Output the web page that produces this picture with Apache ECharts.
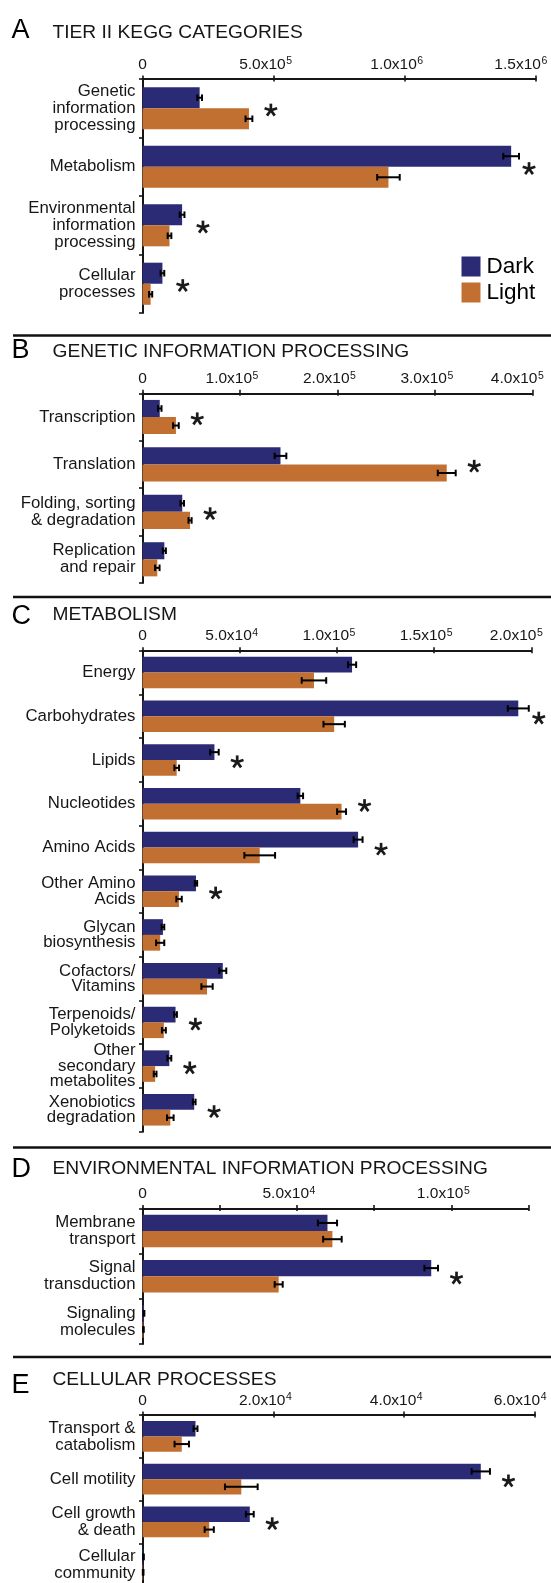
<!DOCTYPE html>
<html>
<head>
<meta charset="utf-8">
<script src="https://cdn.jsdelivr.net/npm/echarts@6/dist/echarts.min.js"></script>
<style>
  html, body { margin: 0; padding: 0; background: #fff; }
  #chart { width: 551px; height: 1583px; }
</style>
</head>
<body>
<div id="chart"></div>
<script>
// Gene abundance per KEGG category, dark vs light samples (mean ± error)

// A: Tier II KEGG categories
const catsA = ['Genetic\ninformation\nprocessing', 'Metabolism', 'Environmental\ninformation\nprocessing', 'Cellular\nprocesses'];
const darkA = [218000, 1406000, 151000, 76000];
const darkErrA = [9000, 30000, 9000, 7000];
const lightA = [406000, 938000, 103000, 31000];
const lightErrA = [13000, 43000, 7000, 6000];
const sigA = [1, 1, 1, 1];
const ticksA = ['0', '5.0x10^5', '1.0x10^6', '1.5x10^6'];

// B: Genetic information processing
const catsB = ['Transcription', 'Translation', 'Folding, sorting\n& degradation', 'Replication\nand repair'];
const darkB = [17700, 141600, 40800, 22400];
const darkErrB = [1800, 6000, 1800, 1600];
const lightB = [34300, 312200, 48800, 15200];
const lightErrB = [2900, 9200, 1600, 2300];
const sigB = [1, 1, 1, 0];
const ticksB = ['0', '1.0x10^5', '2.0x10^5', '3.0x10^5', '4.0x10^5'];

// C: Metabolism
const catsC = ['Energy', 'Carbohydrates', 'Lipids', 'Nucleotides', 'Amino Acids', 'Other Amino\nAcids',
  'Glycan\nbiosynthesis', 'Cofactors/\nVitamins', 'Terpenoids/\nPolyketoids', 'Other\nsecondary\nmetabolites',
  'Xenobiotics\ndegradation'];
const darkC = [107800, 193300, 37000, 81200, 110900, 27500, 10500, 41300, 17000, 13800, 26600];
const darkErrC = [2100, 5400, 2200, 1400, 2300, 600, 700, 1800, 700, 1000, 700];
const lightC = [88200, 98600, 17600, 102400, 60300, 18800, 9100, 33200, 11000, 6500, 14300];
const lightErrC = [6300, 5500, 1200, 2300, 7900, 1400, 2100, 2900, 1000, 700, 1700];
const sigC = [0, 1, 1, 1, 1, 1, 0, 0, 1, 1, 1];
const ticksC = ['0', '5.0x10^4', '1.0x10^5', '1.5x10^5', '2.0x10^5'];

// D: Environmental information processing
const catsD = ['Membrane\ntransport', 'Signal\ntransduction', 'Signaling\nmolecules'];
const darkD = [59900, 93500, 500];
const darkErrD = [3100, 2200, 100];
const lightD = [61500, 44100, 300];
const lightErrD = [3000, 1300, 100];
const sigD = [0, 1, 0];
const ticksD = ['0', '', '5.0x10^4', '', '1.0x10^5', ''];

// E: Cellular processes
const catsE = ['Transport &\ncatabolism', 'Cell motility', 'Cell growth\n& death', 'Cellular\ncommunity'];
const darkE = [8100, 51700, 16400, 150];
const darkErrE = [300, 1400, 600, 50];
const lightE = [6000, 15100, 10200, 100];
const lightErrE = [1100, 2500, 700, 50];
const sigE = [0, 1, 1, 0];
const ticksE = ['0', '2.0x10^4', '4.0x10^4', '6.0x10^4'];

const FONT = '"Liberation Sans", Arial, Helvetica, sans-serif';
const INK = '#161616';
const DARK = '#2b2a74';
const LIGHT = '#c27032';
const GAP = 0.28;       // share of each category band left empty
const AXIS_X = 142.5;   // pixel position of the zero line

const panels = [
  { letter: 'A', title: 'TIER II KEGG CATEGORIES', cats: catsA, dark: darkA, darkErr: darkErrA,
    light: lightA, lightErr: lightErrA, sig: sigA, ticks: ticksA, max: 1.5e6, interval: 5e5,
    top: 79, bottom: 313, end: 535.8, letterY: 30.5, titleY: 33, labelLH: 17 },
  { letter: 'B', title: 'GENETIC INFORMATION PROCESSING', cats: catsB, dark: darkB, darkErr: darkErrB,
    light: lightB, lightErr: lightErrB, sig: sigB, ticks: ticksB, max: 4e5, interval: 1e5,
    top: 393.3, bottom: 583, end: 532.3, letterY: 351, titleY: 351.5, sepY: 335.5, labelLH: 17 },
  { letter: 'C', title: 'METABOLISM', cats: catsC, dark: darkC, darkErr: darkErrC,
    light: lightC, lightErr: lightErrC, sig: sigC, ticks: ticksC, max: 2e5, interval: 5e4,
    top: 650.7, bottom: 1131.7, end: 531.3, letterY: 617, titleY: 615, sepY: 597, labelLH: 15.5 },
  { letter: 'D', title: 'ENVIRONMENTAL INFORMATION PROCESSING', cats: catsD, dark: darkD, darkErr: darkErrD,
    light: lightD, lightErr: lightErrD, sig: sigD, ticks: ticksD, max: 1.25e5, interval: 2.5e4,
    top: 1208.5, bottom: 1344, end: 528.5, letterY: 1169.5, titleY: 1168.5, sepY: 1147.5, labelLH: 17 },
  { letter: 'E', title: 'CELLULAR PROCESSES', cats: catsE, dark: darkE, darkErr: darkErrE,
    light: lightE, lightErr: lightErrE, sig: sigE, ticks: ticksE, max: 6e4, interval: 2e4,
    top: 1415, bottom: 1586, end: 535.1, letterY: 1386, titleY: 1380, sepY: 1357, labelLH: 17 }
];

function tickFormatter(labels) {
  return function (value, index) {
    const t = labels[index];
    if (!t) return '';
    if (t.indexOf('^') < 0) return '{z|' + t + '}';
    const parts = t.split('^');
    const style = index === labels.length - 1 ? 'eL' : 'e';
    return '{m|' + parts[0] + '}{' + style + '|' + parts[1] + '}';
  };
}

const tickRich = {
  z: { fontSize: 15.5, lineHeight: 17, fontFamily: FONT, color: INK },
  m: { fontSize: 15.5, lineHeight: 17, fontFamily: FONT, color: INK },
  e: { fontSize: 10.5, lineHeight: 10, verticalAlign: 'top', fontFamily: FONT, color: INK, padding: [0, 16, 0, 0.5] },
  eL: { fontSize: 10.5, lineHeight: 10, verticalAlign: 'top', fontFamily: FONT, color: INK, padding: [0, 30, 0, 0.5] }
};

const grid = [], xAxis = [], yAxis = [], series = [], graphic = [];

panels.forEach(function (p, k) {
  grid.push({ left: AXIS_X, top: p.top, width: p.end - AXIS_X, height: p.bottom - p.top,
    containLabel: false, outerBoundsMode: 'none' });

  // main value axis along the top, ticks pointing up
  xAxis.push({
    type: 'value', gridIndex: k, position: 'top', min: 0, max: p.max, interval: p.interval,
    axisLine: { show: true, lineStyle: { color: INK, width: 1.8 } },
    axisTick: { show: true, inside: false, length: 3.5, lineStyle: { color: INK, width: 1.6 } },
    axisLabel: { show: true, margin: 6, formatter: tickFormatter(p.ticks), rich: tickRich },
    splitLine: { show: false }
  });
  // companion axis supplying the inward half of each tick
  xAxis.push({
    type: 'value', gridIndex: k, position: 'top', min: 0, max: p.max, interval: p.interval,
    axisLine: { show: false },
    axisTick: { show: true, inside: true, length: 2.5, lineStyle: { color: INK, width: 1.6 } },
    axisLabel: { show: false }, splitLine: { show: false }
  });

  yAxis.push({
    type: 'category', gridIndex: k, data: p.cats, inverse: true, position: 'left',
    axisLine: { show: true, lineStyle: { color: INK, width: 2 } },
    axisTick: { show: true, length: 3.5, lineStyle: { color: INK, width: 1.6 } },
    axisLabel: { margin: 7, fontSize: 16.8, lineHeight: p.labelLH, fontFamily: FONT, color: INK, align: 'right' },
    splitLine: { show: false }
  });

  const xi = k * 2;
  series.push({
    name: 'Dark', type: 'bar', xAxisIndex: xi, yAxisIndex: k, data: p.dark,
    barGap: '0%', barCategoryGap: (GAP * 100) + '%', itemStyle: { color: DARK }, silent: true
  });
  series.push({
    name: 'Light', type: 'bar', xAxisIndex: xi, yAxisIndex: k, data: p.light,
    barGap: '0%', barCategoryGap: (GAP * 100) + '%', itemStyle: { color: LIGHT }, silent: true
  });

  // error bars: [value, category, error, 0 = dark / 1 = light]
  const errData = [];
  p.cats.forEach(function (c, i) {
    errData.push([p.dark[i], i, p.darkErr[i], 0]);
    errData.push([p.light[i], i, p.lightErr[i], 1]);
  });
  series.push({
    type: 'custom', xAxisIndex: xi, yAxisIndex: k, data: errData, z: 5, silent: true,
    encode: { x: 0, y: 1 },
    renderItem: function (params, api) {
      const v = api.value(0), c = api.value(1), e = api.value(2), s = api.value(3);
      const band = api.size([0, 1])[1];
      const barH = band * (1 - GAP) / 2;
      const mid = api.coord([v, c]);
      const y = mid[1] + (s === 0 ? -barH / 2 : barH / 2);
      const x1 = api.coord([v - e, c])[0];
      const x2 = api.coord([v + e, c])[0];
      const cap = 3.3;
      const st = { stroke: '#000', lineWidth: 2 };
      return {
        type: 'group',
        children: [
          { type: 'line', shape: { x1: x1, y1: y, x2: x2, y2: y }, style: st },
          { type: 'line', shape: { x1: x1, y1: y - cap, x2: x1, y2: y + cap }, style: st },
          { type: 'line', shape: { x1: x2, y1: y - cap, x2: x2, y2: y + cap }, style: st }
        ]
      };
    }
  });

  // significance asterisks, placed just past the longer error bar
  const starData = [];
  p.cats.forEach(function (c, i) {
    if (p.sig[i]) starData.push([Math.max(p.dark[i] + p.darkErr[i], p.light[i] + p.lightErr[i]), i]);
  });
  const axisMax = p.max;
  series.push({
    type: 'custom', xAxisIndex: xi, yAxisIndex: k, data: starData, z: 6, silent: true,
    encode: { x: 0, y: 1 },
    renderItem: function (params, api) {
      const pt = api.coord([api.value(0), api.value(1)]);
      const edge = api.coord([axisMax, api.value(1)])[0];
      let cx = pt[0] + 18.5;
      if (cx > edge) cx = pt[0] + 10;
      const cy = pt[1] + 2;
      const r = 6.6;
      const arms = [];
      for (let a = 0; a < 5; a++) {
        const ang = (-90 + a * 72) * Math.PI / 180;
        arms.push({ type: 'line', shape: { x1: cx, y1: cy, x2: cx + r * Math.cos(ang), y2: cy + r * Math.sin(ang) },
          style: { stroke: '#1a1a1a', lineWidth: 2.7 } });
      }
      return { type: 'group', children: arms };
    }
  });

  // panel letter and heading
  graphic.push({ type: 'text', x: 11.5, y: p.letterY,
    style: { text: p.letter, font: '27px ' + FONT, fill: '#000', verticalAlign: 'middle' } });
  graphic.push({ type: 'text', x: 52.5, y: p.titleY,
    style: { text: p.title, font: '19.2px ' + FONT, fill: INK, verticalAlign: 'middle' } });
  if (p.sepY) {
    graphic.push({ type: 'line', shape: { x1: 13, y1: p.sepY, x2: 551, y2: p.sepY },
      style: { stroke: '#111', lineWidth: 2.5 } });
  }
});

const chart = echarts.init(document.getElementById('chart'), null, { renderer: 'canvas' });
chart.setOption({
  animation: false,
  backgroundColor: '#fff',
  textStyle: { fontFamily: FONT },
  grid: grid,
  xAxis: xAxis,
  yAxis: yAxis,
  series: series,
  graphic: graphic,
  legend: {
    data: ['Dark', 'Light'], orient: 'vertical', left: 456.5, top: 250,
    itemWidth: 19, itemHeight: 20, itemGap: 3, icon: 'rect', selectedMode: false,
    textStyle: { fontSize: 22.5, fontFamily: FONT, color: '#000', padding: [0, 0, 0, 1] }
  }
});
</script>
</body>
</html>
